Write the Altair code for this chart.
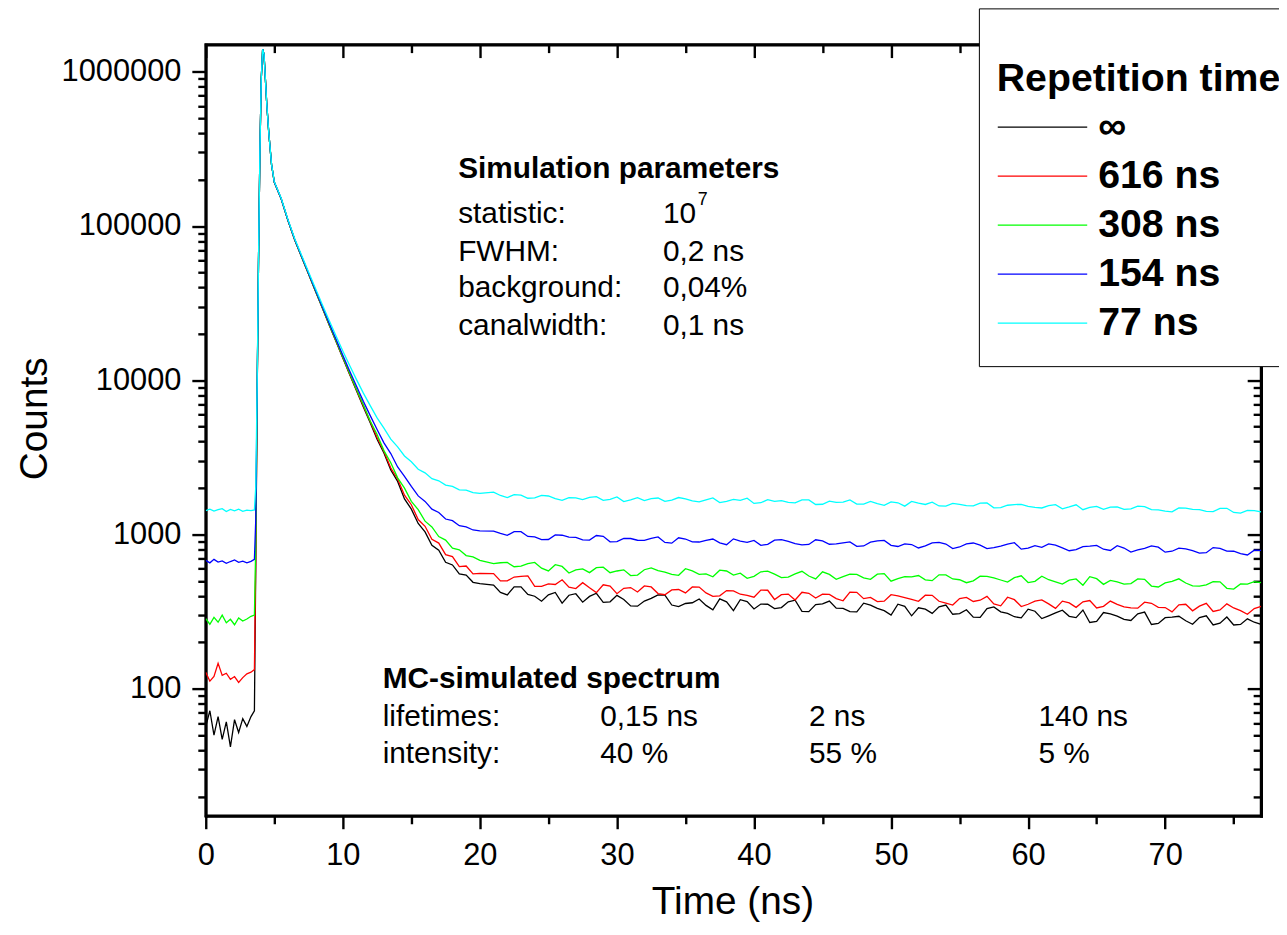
import altair as alt
import pandas as pd

FONT = "Liberation Sans"

# ---- time axis (ns) ----
TIME = [0.0, 0.3, 0.6, 0.9, 1.2, 1.5, 1.8, 2.1, 2.4, 2.7, 3.0, 3.3, 3.55,
        3.65, 3.75, 3.85, 3.95, 4.05, 4.15, 4.25, 4.35, 4.45, 4.6, 4.8,
        5.0, 5.5, 6.0, 6.5, 7.0, 7.5, 8.0, 8.5, 9.0, 9.5,
        10.0, 10.5, 11.0, 11.5, 12.0, 12.5, 13.0, 13.5, 14.0, 14.5,
        15.0, 15.5, 16.0, 16.5, 17.0, 17.5, 18.0, 18.5, 19.0, 19.5, 20.0,
        21, 22, 23, 24, 25, 26, 27, 28, 29, 30,
        31, 32, 33, 34, 35, 36, 37, 38, 39, 40,
        41, 42, 43, 44, 45, 46, 47, 48, 49, 50,
        51, 52, 53, 54, 55, 56, 57, 58, 59, 60,
        61, 62, 63, 64, 65, 66, 67, 68, 69, 70,
        71, 72, 73, 74, 75, 76, 77]
TIME_HALF = [21.5, 22.5, 23.5, 24.5, 25.5, 26.5, 27.5, 28.5, 29.5, 30.5,
             31.5, 32.5, 33.5, 34.5, 35.5, 36.5, 37.5, 38.5, 39.5, 40.5,
             41.5, 42.5, 43.5, 44.5, 45.5, 46.5, 47.5, 48.5, 49.5, 50.5,
             51.5, 52.5, 53.5, 54.5, 55.5, 56.5, 57.5, 58.5, 59.5, 60.5,
             61.5, 62.5, 63.5, 64.5, 65.5, 66.5, 67.5, 68.5, 69.5, 70.5,
             71.5, 72.5, 73.5, 74.5, 75.5, 76.5]

# ---- black: repetition time infinite ----
BLACK_PRE = [57, 72, 50, 66, 47, 61, 42, 63, 52, 64, 57, 66, 72]
BLACK_RISE = [650, 8000, 60000, 300000, 900000, 1400000, 1300000, 900000, 620000, 400000, 250000]
BLACK_DECAY = [192400, 150400, 108400, 80900, 62800, 48800, 37900, 29500, 22900, 17900,
               13950, 10900, 8550, 6700, 5300, 4150, 3380, 2620, 2210, 1700,
               1460, 1180, 1040, 850, 790, 660, 635, 555, 545, 490, 480]
BLACK_TAIL = [470, 406, 458, 398, 406, 359, 413, 397, 363, 403,
              344, 370, 406, 349, 357, 382, 325, 366, 378, 329,
              353, 336, 375, 316, 355, 333, 316, 359, 332, 300,
              342, 335, 308, 349, 307, 291, 331, 315, 293, 328,
              285, 310, 295, 324, 273, 306, 282, 306, 261, 289,
              295, 262, 297, 266, 259, 284, 261]
BLACK_HALF = [421, 458, 409, 369, 421, 404, 364, 416, 366, 379,
              343, 385, 404, 341, 361, 347, 383, 321, 367, 354,
              331, 366, 317, 351, 370, 332, 315, 348, 321, 353,
              297, 328, 340, 304, 325, 290, 339, 308, 288, 318,
              297, 323, 289, 269, 312, 296, 277, 314, 265, 291,
              276, 289, 259, 292, 261, 270]

# ---- red: 616 ns ----
RED_PRE = [128, 112, 120, 146, 122, 126, 115, 120, 110, 118, 125, 128, 133]
RED_RISE = [720, 8100, 60100, 300100, 900100, 1400100, 1300100, 900100, 620100, 400100, 250100]
RED_DECAY = [192500, 150500, 108500, 81000, 62900, 48900, 38000, 29600, 23000, 18000,
             14050, 11000, 8650, 6800, 5400, 4250, 3450, 2700, 2290, 1800,
             1560, 1250, 1130, 930, 880, 740, 720, 620, 625, 555, 560]
RED_TAIL = [558, 501, 535, 461, 478, 509, 446, 451, 472, 413,
            453, 464, 414, 437, 418, 456, 397, 433, 410, 392,
            435, 407, 376, 416, 410, 384, 423, 384, 367, 407,
            390, 369, 403, 359, 384, 368, 397, 345, 378, 353,
            377, 332, 360, 366, 334, 370, 339, 333, 358, 336,
            350, 320, 358, 324, 334, 304, 342]
RED_HALF = [500, 530, 539, 461, 474, 455, 487, 420, 463, 448,
            424, 457, 407, 440, 457, 418, 400, 431, 403, 436,
            379, 411, 422, 387, 409, 372, 422, 391, 370, 400,
            379, 404, 369, 349, 391, 375, 355, 392, 341, 370,
            355, 370, 337, 373, 342, 352, 334, 364, 337, 315,
            353, 343, 317, 355, 321, 331]

# ---- green: 308 ns ----
GREEN_PRE = [285, 262, 290, 270, 300, 268, 282, 260, 288, 275, 283, 295, 300]
GREEN_RISE = [880, 8300, 60300, 300300, 900300, 1400300, 1300300, 900300, 620300, 400300, 250300]
GREEN_DECAY = [192600, 150600, 108600, 81100, 63000, 49000, 38100, 29700, 23100, 18100,
               14150, 11100, 8750, 6950, 5450, 4450, 3500, 2920, 2330, 2000,
               1640, 1450, 1220, 1120, 970, 920, 815, 795, 730, 715, 680]
GREEN_TAIL = [648, 659, 623, 659, 581, 621, 590, 566, 614, 580,
              542, 591, 583, 552, 600, 552, 532, 580, 561, 535,
              578, 526, 556, 538, 573, 512, 553, 523, 553, 498,
              533, 542, 502, 547, 509, 501, 536, 507, 525, 488,
              536, 493, 506, 469, 517, 504, 477, 515, 463, 485,
              516, 465, 471, 493, 443, 477, 488]
GREEN_HALF = [656, 618, 648, 605, 637, 563, 599, 610, 565, 590,
              546, 607, 570, 544, 581, 555, 587, 545, 520, 573,
              554, 530, 577, 515, 551, 533, 551, 512, 558, 518,
              532, 508, 548, 515, 487, 537, 523, 491, 540, 497,
              509, 477, 515, 533, 475, 493, 481, 512, 457, 497,
              485, 463, 494, 448, 478, 494]

# ---- blue: 154 ns ----
BLUE_PRE = [680, 655, 690, 662, 675, 650, 668, 685, 660, 672, 655, 670, 690]
BLUE_RISE = [1270, 8700, 60700, 300700, 900700, 1400700, 1300700, 900700, 620700, 400700, 250700]
BLUE_DECAY = [193000, 151000, 109000, 81500, 63400, 49400, 38500, 30100, 23500, 18500,
              14550, 11500, 9150, 7300, 5900, 4790, 3930, 3350, 2740, 2380,
              2050, 1780, 1640, 1460, 1390, 1260, 1230, 1140, 1120, 1070, 1055]
BLUE_TAIL = [1052, 988, 1043, 964, 928, 989, 958, 920, 973, 900,
             942, 916, 964, 879, 935, 894, 935, 859, 906, 916,
             863, 925, 872, 862, 908, 870, 895, 843, 910, 851,
             869, 818, 883, 867, 830, 881, 810, 841, 885, 815,
             825, 854, 785, 834, 851, 788, 817, 794, 843, 768,
             815, 785, 762, 814, 779, 737, 788]
BLUE_HALF = [1016, 1044, 972, 927, 994, 962, 924, 985, 896, 944,
             918, 944, 889, 952, 896, 915, 882, 937, 890, 851,
             920, 902, 857, 924, 865, 883, 838, 891, 916, 836,
             861, 844, 889, 811, 869, 853, 823, 867, 804, 847,
             870, 820, 797, 840, 803, 846, 770, 812, 828, 779,
             807, 757, 823, 781, 752, 791]

# ---- cyan: 77 ns ----
CYAN_PRE = [1430, 1460, 1420, 1450, 1470, 1410, 1455, 1425, 1460, 1415, 1440, 1430, 1445]
CYAN_RISE = [2050, 9400, 61400, 301400, 901400, 1401400, 1301400, 901400, 621400, 401400, 251400]
CYAN_DECAY = [194000, 152000, 110000, 82500, 64400, 50400, 39500, 31000, 24500, 19450,
              15500, 12450, 10100, 8250, 6850, 5700, 4900, 4150, 3700, 3230,
              2960, 2650, 2510, 2300, 2230, 2090, 2050, 1950, 1940, 1870, 1850]
CYAN_TAIL = [1880, 1736, 1802, 1729, 1777, 1663, 1727, 1741, 1664, 1751,
             1675, 1660, 1725, 1670, 1705, 1630, 1725, 1640, 1665, 1591,
             1683, 1658, 1603, 1675, 1571, 1614, 1676, 1573, 1586, 1628,
             1527, 1597, 1619, 1528, 1569, 1535, 1604, 1496, 1564, 1521,
             1486, 1561, 1509, 1448, 1522, 1506, 1454, 1527, 1449, 1416,
             1488, 1455, 1413, 1475, 1390, 1434, 1404]
CYAN_HALF = [1791, 1812, 1718, 1794, 1709, 1731, 1682, 1758, 1692, 1636,
             1733, 1707, 1642, 1737, 1652, 1677, 1612, 1687, 1721, 1607,
             1641, 1615, 1678, 1565, 1646, 1621, 1576, 1637, 1545, 1606,
             1638, 1566, 1531, 1591, 1538, 1598, 1489, 1548, 1570, 1499,
             1537, 1467, 1559, 1498, 1455, 1511, 1468, 1514, 1445, 1404,
             1484, 1451, 1409, 1479, 1377, 1430]

SERIES = ["\u221e", "616 ns", "308 ns", "154 ns", "77 ns"]
COLORS = ["#000000", "#ff0000", "#00ff00", "#0000ff", "#00ffff"]
VALUES = [
    BLACK_PRE + BLACK_RISE + BLACK_DECAY + BLACK_TAIL,
    RED_PRE + RED_RISE + RED_DECAY + RED_TAIL,
    GREEN_PRE + GREEN_RISE + GREEN_DECAY + GREEN_TAIL,
    BLUE_PRE + BLUE_RISE + BLUE_DECAY + BLUE_TAIL,
    CYAN_PRE + CYAN_RISE + CYAN_DECAY + CYAN_TAIL,
]
HALF_VALUES = [BLACK_HALF, RED_HALF, GREEN_HALF, BLUE_HALF, CYAN_HALF]

X_MAJOR = [0, 10, 20, 30, 40, 50, 60, 70]
X_MINOR = [5, 15, 25, 35, 45, 55, 65, 75]
Y_MAJOR = [100, 1000, 10000, 100000, 1000000]
Y_MINOR = [20, 30, 40, 50, 60, 70, 80, 90,
           200, 300, 400, 500, 600, 700, 800, 900,
           2000, 3000, 4000, 5000, 6000, 7000, 8000, 9000,
           20000, 30000, 40000, 50000, 60000, 70000, 80000, 90000,
           200000, 300000, 400000, 500000, 600000, 700000, 800000, 900000]

rows = []
for name, vals, half in zip(SERIES, VALUES, HALF_VALUES):
    pts = list(zip(TIME, vals)) + list(zip(TIME_HALF, half))
    pts.sort(key=lambda p: p[0])
    for t, v in pts:
        rows.append({"t": t, "counts": v, "series": name})
df = pd.DataFrame(rows)

xscale = alt.Scale(domain=[0, 77], nice=False, zero=False)
yscale = alt.Scale(type="log", domain=[15, 1500000], nice=False)

FRAME = dict(domain=True, domainColor="black", domainWidth=2.8, domainCap="square")


def axis(orient, values, size, offset=0, **kw):
    opts = dict(orient=orient, values=values, tickSize=size, tickWidth=2.4,
                tickColor="black", domain=False, grid=False, labels=False)
    if offset:
        opts["offset"] = offset
    opts.update(kw)
    return alt.Axis(**opts)


label_opts = dict(labels=True, labelFont=FONT, labelFontSize=31, labelColor="black",
                  labelFlush=False, labelOverlap=False, format="d")

bottom_major = axis("bottom", X_MAJOR, 13, labelPadding=12,
                    titleFont=FONT, titleFontSize=39, titleFontWeight="normal",
                    titleColor="black", titleX=530, titleY=86, titleBaseline="middle",
                    titleAlign="center", **label_opts, **FRAME)
left_major = axis("left", Y_MAJOR, 14, labelPadding=11,
                  titleFont=FONT, titleFontSize=39, titleFontWeight="normal",
                  titleColor="black", titleX=-172, titleY=376, titleBaseline="middle",
                  titleAlign="center", titleAngle=270, **label_opts, **FRAME)

legend = alt.Legend(
    title=["", "Repetition time"], orient="none", legendX=778, legendY=-36.5,
    titleFont=FONT, titleFontSize=39.5, titleFontWeight="bold", titleColor="black",
    titleLineHeight=34, titlePadding=3.5, titleAnchor="start", titleLimit=600,
    labelFont=FONT, labelFontSize=39.5, labelFontWeight="bold", labelColor="black",
    labelOffset=10, labelLimit=600,
    symbolType="stroke", symbolSize=8100, symbolStrokeWidth=1.3,
    clipHeight=49, rowPadding=0.3, padding=18,
    strokeColor="black", fillColor="white",
)

lines = alt.Chart(df).mark_line(strokeWidth=1.3, clip=True).encode(
    x=alt.X("t:Q", scale=xscale, axis=bottom_major, title="Time (ns)"),
    y=alt.Y("counts:Q", scale=yscale, axis=left_major, title="Counts"),
    color=alt.Color("series:N", scale=alt.Scale(domain=SERIES, range=COLORS),
                    legend=legend),
)

ghost = alt.Chart(df).mark_line(strokeOpacity=0)
minor_bl = ghost.encode(
    x=alt.X("t:Q", scale=xscale, axis=axis("bottom", X_MINOR, 8), title=None),
    y=alt.Y("counts:Q", scale=yscale, axis=axis("left", Y_MINOR, 8), title=None),
)
major_tr = ghost.encode(
    x=alt.X("t:Q", scale=xscale, axis=axis("top", X_MAJOR, 13, offset=-13), title=None),
    y=alt.Y("counts:Q", scale=yscale, axis=axis("right", Y_MAJOR, 14, offset=-14), title=None),
)
minor_tr = ghost.encode(
    x=alt.X("t:Q", scale=xscale, axis=axis("top", X_MINOR, 8, offset=-8), title=None),
    y=alt.Y("counts:Q", scale=yscale, axis=axis("right", Y_MINOR, 8, offset=-8), title=None),
)
frame_tr = ghost.encode(
    x=alt.X("t:Q", scale=xscale, axis=axis("top", X_MAJOR, 0, ticks=False, **FRAME), title=None),
    y=alt.Y("counts:Q", scale=yscale, axis=axis("right", Y_MAJOR, 0, ticks=False, **FRAME), title=None),
)


def txt(s, x, y, size=30, weight="normal"):
    return alt.Chart(alt.Data(values=[{}])).mark_text(
        text=s, font=FONT, fontSize=size, fontWeight=weight, align="left",
        baseline="middle", color="black",
    ).encode(x=alt.value(x), y=alt.value(y))


texts = [
    txt("Simulation parameters", 254, 125, weight="bold"),
    txt("statistic:", 254, 170),
    txt("FWHM:", 254, 209),
    txt("background:", 254, 245),
    txt("canalwidth:", 254, 283),
    txt("10", 460, 170),
    txt("7", 495, 156, size=18),
    txt("0,2 ns", 460, 209),
    txt("0,04%", 460, 245),
    txt("0,1 ns", 460, 283),
    txt("MC-simulated spectrum", 178, 638, weight="bold"),
    txt("lifetimes:", 178, 677),
    txt("intensity:", 178, 714),
    txt("0,15 ns", 397, 677),
    txt("2 ns", 607, 677),
    txt("140 ns", 838, 677),
    txt("40 %", 397, 714),
    txt("55 %", 607, 714),
    txt("5 %", 838, 714),
]

chart = alt.layer(lines, minor_bl, major_tr, minor_tr, frame_tr, *texts).resolve_axis(
    x="independent", y="independent"
).properties(
    width=1062, height=776,
    autosize=alt.AutoSizeParams(type="none"),
    padding={"left": 199, "top": 34, "right": 18, "bottom": 109},
    background="white",
).configure(font=FONT).configure_view(stroke="black", strokeWidth=2.7)

chart.save("out.html", embed_options={"renderer": "svg", "actions": False})
